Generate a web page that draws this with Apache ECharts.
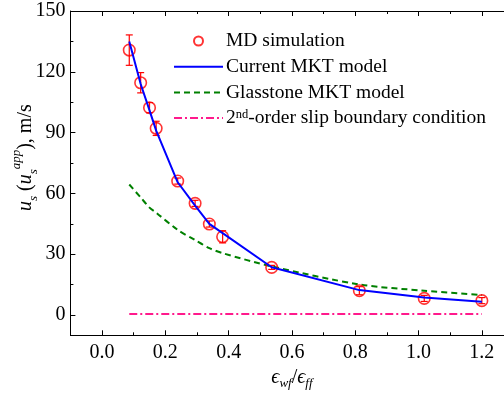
<!DOCTYPE html>
<html>
<head>
<meta charset="utf-8">
<script src="https://cdn.jsdelivr.net/npm/echarts@6/dist/echarts.min.js"></script>
<style>
  html, body { margin: 0; padding: 0; background: #fff; }
  #main { width: 504px; height: 394px; }
</style>
</head>
<body>
<div id="main"></div>
<script>
// values
var mdX = [0.086, 0.122, 0.150, 0.171, 0.239, 0.294, 0.339, 0.381, 0.536, 0.813, 1.018, 1.200];
var mdY = [130.7, 114.6, 102.3, 92.1, 66.1, 55.1, 44.9, 38.6, 23.5, 12.0, 8.2, 7.1];
var mdErr = [7.5, 5, 2.5, 3.5, 1.5, 1.5, 1.5, 3, 1, 2, 1.5, 1.5];
var currentY = [135, 114, 101, 91, 65.5, 54, 45, 40.4, 23.6, 12.3, 8.6, 6.6];
var glasstoneY = [64.4, 58, 53, 50.5, 42, 37, 33, 30.5, 24, 15.1, 12.0, 9.9];
var slipY = [0.5, 0.5, 0.5, 0.5, 0.5, 0.5, 0.5, 0.5, 0.5, 0.5, 0.5, 0.5];

var xMajor = [0.0, 0.2, 0.4, 0.6, 0.8, 1.0, 1.2];
var xMinor = [0.1, 0.3, 0.5, 0.7, 0.9, 1.1];
var yMajor = [0, 30, 60, 90, 120, 150];
var yMinor = [15, 45, 75, 105, 135];

var FONT = "'Liberation Serif', 'DejaVu Serif', serif";

function pairs(xs, ys) {
  return xs.map(function (x, i) { return [x, ys[i]]; });
}

var errData = mdX.map(function (x, i) {
  return [x, mdY[i] - mdErr[i], mdY[i] + mdErr[i]];
});

var chart = echarts.init(document.getElementById('main'));

function majorX(pos, showLabel, name) {
  return {
    type: 'value', position: pos, min: -0.1, max: 1.3,
    splitLine: { show: false },
    axisLine: { show: true, onZero: false, lineStyle: { color: '#000', width: 1 } },
    axisTick: { show: true, inside: true, length: 5, customValues: xMajor, lineStyle: { color: '#000' } },
    axisLabel: {
      show: showLabel, customValues: xMajor, margin: 7,
      fontFamily: FONT, fontSize: 20, color: '#000',
      formatter: function (v) { return v.toFixed(1); }
    },
    name: name || '',
    nameLocation: 'middle',
    nameGap: 29,
    nameMoveOverlap: false,
    nameTextStyle: {
      fontFamily: FONT, fontSize: 20, color: '#000', lineHeight: 26,
      rich: {
        i: { fontFamily: FONT, fontSize: 20, fontStyle: 'italic', color: '#000', lineHeight: 26 },
        sub: { fontFamily: FONT, fontSize: 13, fontStyle: 'italic', color: '#000', lineHeight: 13, verticalAlign: 'bottom' }
      }
    }
  };
}

function minorX(pos) {
  return {
    type: 'value', position: pos, min: -0.1, max: 1.3,
    splitLine: { show: false },
    axisLine: { show: false, onZero: false },
    axisTick: { show: true, inside: true, length: 3, customValues: xMinor, lineStyle: { color: '#000' } },
    axisLabel: { show: false }
  };
}

var noMark = { opacity: 0 };

var option = {
  backgroundColor: '#fff',
  animation: false,
  grid: {
    left: 70.4, right: -9.5, top: 11, bottom: 58.7,
    containLabel: false, outerBoundsMode: 'none'
  },
  legend: {
    orient: 'vertical',
    left: 173, top: 31,
    padding: 0,
    itemWidth: 49, itemHeight: 9, itemGap: 5.7,
    data: [
      { name: 'MD simulation' },
      { name: 'Current MKT model', itemStyle: noMark },
      { name: 'Glasstone MKT model', itemStyle: noMark },
      { name: 'slip', itemStyle: noMark }
    ],
    formatter: function (name) {
      if (name === 'slip') return '2{sup|nd}-order slip boundary condition';
      return name;
    },
    textStyle: {
      fontFamily: FONT, fontSize: 19.5, color: '#000', lineHeight: 20, padding: [0, 0, 0, -2],
      rich: {
        sup: { fontFamily: FONT, fontSize: 12.5, color: '#000', lineHeight: 8, verticalAlign: 'top' }
      }
    }
  },
  xAxis: [
    majorX('bottom', true, '{i|ϵ}{sub|wf}/{i|ϵ}{sub|ff}'),
    minorX('bottom'),
    majorX('top', false),
    minorX('top')
  ],
  yAxis: [
    {
      type: 'value', position: 'left', min: -10, max: 150,
      splitLine: { show: false },
      axisLine: { show: true, onZero: false, lineStyle: { color: '#000', width: 1 } },
      axisTick: { show: true, inside: true, length: 5, customValues: yMajor, lineStyle: { color: '#000' } },
      axisLabel: { customValues: yMajor, margin: 5, fontFamily: FONT, fontSize: 20, color: '#000' },
      name: '{i|u}{sub|s} ({i|u}{sub|s}{sup|app}), m/s',
      nameLocation: 'middle',
      nameGap: 30,
      nameRotate: 90,
      nameMoveOverlap: false,
      nameTextStyle: {
        fontFamily: FONT, fontSize: 20, color: '#000', lineHeight: 30, padding: [0, 0, 0, 31],
        rich: {
          i: { fontFamily: FONT, fontSize: 20, fontStyle: 'italic', color: '#000', lineHeight: 30 },
          sub: { fontFamily: FONT, fontSize: 13, fontStyle: 'italic', color: '#000', lineHeight: 9, verticalAlign: 'bottom' },
          sup: { fontFamily: FONT, fontSize: 13, fontStyle: 'italic', color: '#000', lineHeight: 9, verticalAlign: 'top' }
        }
      }
    },
    {
      type: 'value', position: 'left', min: -10, max: 150,
      splitLine: { show: false },
      axisLine: { show: false, onZero: false },
      axisTick: { show: true, inside: true, length: 3, customValues: yMinor, lineStyle: { color: '#000' } },
      axisLabel: { show: false }
    }
  ],
  series: [
    {
      name: 'MD simulation',
      type: 'scatter',
      data: pairs(mdX, mdY),
      symbol: 'circle',
      symbolSize: 11.5,
      itemStyle: { color: 'rgba(0,0,0,0)', borderColor: '#ff0000', borderWidth: 1.6 },
      z: 3
    },
    {
      name: 'err',
      type: 'custom',
      data: errData,
      encode: { x: 0, y: [1, 2] },
      renderItem: function (params, api) {
        var x = api.value(0);
        var top = api.coord([x, api.value(2)]);
        var bot = api.coord([x, api.value(1)]);
        var w = 3.5;
        var st = { stroke: '#ff0000', lineWidth: 1.2 };
        return {
          type: 'group',
          children: [
            { type: 'line', shape: { x1: top[0], y1: top[1], x2: bot[0], y2: bot[1] }, style: st },
            { type: 'line', shape: { x1: top[0] - w, y1: top[1], x2: top[0] + w, y2: top[1] }, style: st },
            { type: 'line', shape: { x1: bot[0] - w, y1: bot[1], x2: bot[0] + w, y2: bot[1] }, style: st }
          ]
        };
      },
      z: 3
    },
    {
      name: 'Current MKT model',
      type: 'line',
      data: pairs(mdX, currentY),
      symbol: 'none',
      lineStyle: { color: '#0000ff', width: 2 },
      itemStyle: { color: '#0000ff' },
      z: 4
    },
    {
      name: 'Glasstone MKT model',
      type: 'line',
      data: pairs(mdX, glasstoneY),
      symbol: 'none',
      smooth: 0.3,
      lineStyle: { color: '#008000', width: 2, type: [6, 4] },
      itemStyle: { color: '#008000' },
      z: 2
    },
    {
      name: 'slip',
      type: 'line',
      data: pairs(mdX, slipY),
      symbol: 'none',
      lineStyle: { color: '#ff1a8c', width: 2, type: [8, 3, 2, 3] },
      itemStyle: { color: '#ff1a8c' },
      z: 2
    }
  ]
};

chart.setOption(option);
</script>
</body>
</html>
